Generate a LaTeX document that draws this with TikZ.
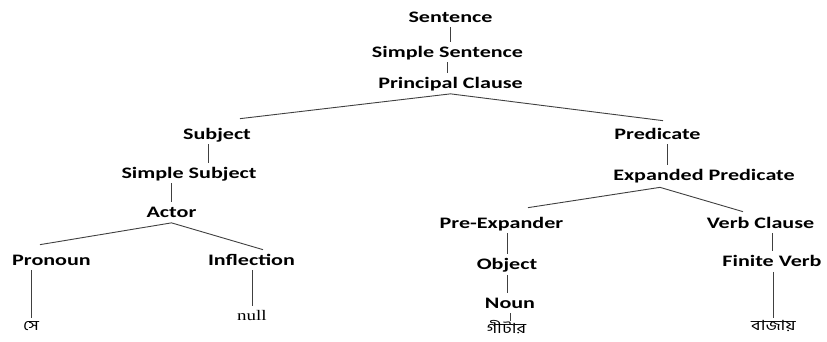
\documentclass[tikz,border=0pt]{standalone}
\usepackage{fontspec}
\newfontfamily\wordfont{Carlito}[FakeStretch=1.38]
\newfontfamily\leafserif{Liberation Serif}[FakeStretch=1.3]
\newfontfamily\bangla{Hind Siliguri}[Script=Bengali,FakeStretch=1.3]
\usetikzlibrary{calc}
\tikzset{
    word/.style={inner xsep=0pt, inner ysep=5pt, text height=10.3pt, text depth=0pt,
        font=\fontsize{16}{18}\selectfont\wordfont\bfseries, text=black},
    leaf/.style={inner xsep=0pt, inner ysep=4pt, text height=8pt, text depth=2pt,
        font=\fontsize{14}{16}\selectfont\bangla, text=black},
    nullword/.style={inner xsep=0pt, inner ysep=4pt, text height=10pt, text depth=0pt,
        font=\fontsize{14.6}{16}\selectfont\leafserif, text=black},
    branch/.style={draw=black!75, line width=0.9pt}
}

\begin{document}
\begin{tikzpicture}[x=1pt, y=-1pt]
    \fill[white] (0,0) rectangle (827,341);
    \useasboundingbox (0,0) rectangle (827,341);
    % spine
    \node[word] (sent) at (450.5,17) {Sentence};
    \node[word] (ssent) at (447.5,52) {Simple Sentence};
    \node[word] (pc) at (450.5,83.5) {Principal Clause};
    % subject side
    \node[word] (subj) at (217,134) {Subject};
    \node[word] (ssubj) at (189,173) {Simple Subject};
    \node[word] (actor) at (171.5,212.5) {Actor};
    \node[word] (pron) at (51.5,260) {Pronoun};
    \node[word] (infl) at (251.5,260) {Inflection};
    \node[leaf] (se) at (31,327) {সে};
    \node[nullword] (nullw) at (252,315) {null};
    % predicate side
    \node[word] (pred) at (657.5,134) {Predicate};
    \node[word] (exp) at (704,175) {Expanded Predicate};
    \node[word] (preexp) at (501.5,223) {Pre-Expander};
    \node[word] (vc) at (760.5,223) {Verb Clause};
    \node[word] (obj) at (507,264.5) {Object};
    \node[word] (noun) at (510,303) {Noun};
    \node[word] (fv) at (772,261.5) {Finite Verb};
    \node[leaf] (gitar) at (506.5,330.5) {গীটার};
    \node[leaf] (bajay) at (773.5,327) {বাজায়};
    % branches
    \draw[branch] (sent.south) -- (sent.south |- ssent.north);
    \draw[branch] (ssent.south) -- (ssent.south |- pc.north);
    \draw[branch] ([xshift=23pt,yshift=5pt]subj.north) -- (pc.south) -- ([xshift=5.5pt,yshift=3pt]pred.north);
    \draw[branch] ([xshift=-9pt]subj.south) -- ([xshift=-9pt]subj.south |- ssubj.north);
    \draw[branch] (actor.north |- ssubj.south) -- (actor.north);
    \draw[branch] ([xshift=-11.5pt,yshift=5pt]pron.north) -- (actor.south) -- ([xshift=11.5pt]infl.north);
    \draw[branch] (se.north |- pron.south) -- (se.north);
    \draw[branch] (nullw.north |- infl.south) -- (nullw.north);
    \draw[branch] ([xshift=10pt]pred.south) -- ([xshift=10pt]pred.south |- exp.north);
    \draw[branch] ([xshift=26.5pt,yshift=5pt]preexp.north) -- ([xshift=-44pt,yshift=-2pt]exp.south) -- ([xshift=-17.5pt,yshift=1pt]vc.north);
    \draw[branch] (obj.north |- preexp.south) -- (obj.north);
    \draw[branch] (obj.south) -- (obj.south |- noun.north);
    \draw[branch] (noun.south) -- (noun.south |- gitar.north);
    \draw[branch] (fv.north |- vc.south) -- (fv.north);
    \draw[branch] (bajay.north |- fv.south) -- (bajay.north);
\end{tikzpicture}
\end{document}
